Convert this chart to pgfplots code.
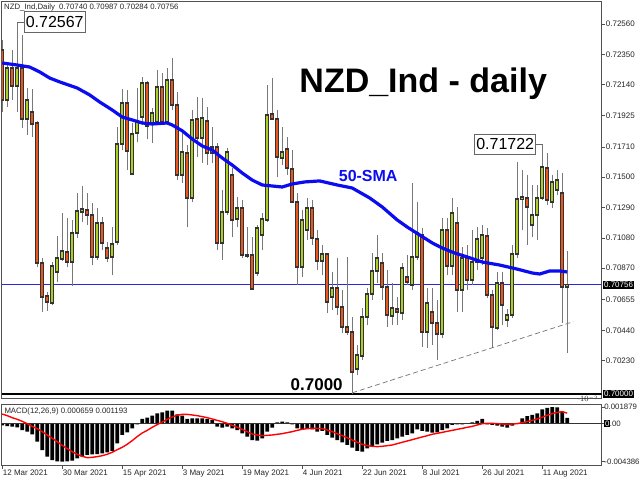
\documentclass[border=0pt]{standalone}
\usepackage{pgfplots}
\usepackage{pgfplotstable}
\pgfplotsset{compat=1.18}
\usepackage{fontspec}
\setmainfont{Liberation Sans}

\definecolor{bull}{RGB}{170,205,40}
\definecolor{bear}{RGB}{232,88,28}
\definecolor{wickc}{RGB}{120,120,120}
\definecolor{smab}{RGB}{12,12,240}
\definecolor{framec}{RGB}{80,80,80}

% daily candles: bar index, open, high, low, close
\pgfplotstableread{
i o h l c
0 0.72380 0.72449 0.71951 0.72034
1 0.72034 0.72297 0.71986 0.72255
2 0.72255 0.72380 0.72034 0.72131
3 0.72131 0.72567 0.71951 0.72255
4 0.72255 0.72484 0.71840 0.71903
5 0.71903 0.72117 0.71792 0.72034
6 0.71951 0.72110 0.71778 0.71868
7 0.71875 0.71889 0.70878 0.70906
8 0.70906 0.70941 0.70567 0.70671
9 0.70678 0.70705 0.70574 0.70636
10 0.70629 0.70913 0.70615 0.70885
11 0.70844 0.71093 0.70775 0.70941
12 0.70934 0.71252 0.70920 0.70989
13 0.70982 0.71217 0.70878 0.70913
14 0.70913 0.71204 0.70747 0.71114
15 0.71114 0.71390 0.71079 0.71266
16 0.71259 0.71439 0.71190 0.71280
17 0.71273 0.71390 0.71169 0.71238
18 0.71238 0.71321 0.70892 0.70948
19 0.70948 0.71287 0.70927 0.71183
20 0.71183 0.71224 0.70996 0.71044
21 0.71010 0.71051 0.70913 0.70941
22 0.70948 0.71155 0.70823 0.71038
23 0.71051 0.71847 0.71031 0.71730
24 0.71730 0.72110 0.71688 0.72013
25 0.72013 0.72103 0.71550 0.71681
26 0.71522 0.71875 0.71515 0.71799
27 0.71806 0.72117 0.71743 0.71889
28 0.71916 0.72193 0.71861 0.72152
29 0.72152 0.72165 0.71764 0.71854
30 0.71875 0.71979 0.71736 0.71944
31 0.71882 0.72242 0.71861 0.72124
32 0.72124 0.72221 0.71861 0.71882
33 0.71882 0.72255 0.71861 0.72172
34 0.72172 0.72325 0.71965 0.71999
35 0.71999 0.72089 0.71480 0.71515
36 0.71515 0.71826 0.71460 0.71674
37 0.71667 0.71723 0.71155 0.71356
38 0.71356 0.71965 0.71328 0.71896
39 0.71903 0.72055 0.71640 0.71771
40 0.71771 0.72048 0.71598 0.71909
41 0.71889 0.71986 0.71584 0.71667
42 0.71667 0.71847 0.71598 0.71709
43 0.71709 0.71736 0.70996 0.71044
44 0.71044 0.71411 0.70927 0.71259
45 0.71259 0.71702 0.71238 0.71674
46 0.71515 0.71563 0.71086 0.71204
47 0.71211 0.71363 0.71155 0.71287
48 0.71287 0.71342 0.70941 0.70961
49 0.70961 0.71155 0.70941 0.70954
50 0.70961 0.71086 0.70719 0.70726
51 0.70837 0.71169 0.70816 0.71148
52 0.71100 0.71252 0.70996 0.71211
53 0.71204 0.72138 0.71190 0.71930
54 0.71937 0.72186 0.71896 0.71903
55 0.71903 0.71965 0.71501 0.71640
56 0.71633 0.71847 0.71584 0.71674
57 0.71695 0.71778 0.71515 0.71563
58 0.71557 0.71688 0.71321 0.71328
59 0.71328 0.71390 0.70754 0.70878
60 0.70878 0.71273 0.70809 0.71204
61 0.71134 0.71356 0.71065 0.71287
62 0.71287 0.71342 0.71031 0.71079
63 0.71072 0.71134 0.70858 0.70920
64 0.70920 0.71031 0.70823 0.70968
65 0.70968 0.70968 0.70560 0.70636
66 0.70671 0.70844 0.70581 0.70733
67 0.70733 0.70941 0.70546 0.70602
68 0.70602 0.70719 0.70422 0.70463
69 0.70463 0.70948 0.70408 0.70429
70 0.70429 0.70532 0.70000 0.70152
71 0.70173 0.70339 0.70131 0.70269
72 0.70262 0.70595 0.70235 0.70532
73 0.70532 0.70733 0.70477 0.70692
74 0.70692 0.70975 0.70650 0.70851
75 0.70851 0.71100 0.70768 0.70941
76 0.70906 0.70975 0.70650 0.70740
77 0.70740 0.70858 0.70463 0.70546
78 0.70539 0.70768 0.70477 0.70595
79 0.70588 0.70671 0.70477 0.70567
80 0.70560 0.70906 0.70512 0.70871
81 0.70809 0.70961 0.70754 0.70775
82 0.70754 0.71460 0.70719 0.70948
83 0.70948 0.71328 0.70927 0.71114
84 0.71100 0.71148 0.70325 0.70429
85 0.70429 0.70733 0.70318 0.70629
86 0.70567 0.70733 0.70339 0.70491
87 0.70491 0.70650 0.70235 0.70415
88 0.70415 0.71217 0.70387 0.71134
89 0.71134 0.71217 0.70823 0.70885
90 0.70885 0.71356 0.70823 0.71252
91 0.71183 0.71294 0.70567 0.70719
92 0.70719 0.71017 0.70567 0.70941
93 0.70941 0.71031 0.70719 0.70789
94 0.70789 0.71135 0.70754 0.70913
95 0.70913 0.71155 0.70858 0.71072
96 0.70941 0.71169 0.70892 0.71100
97 0.71093 0.71148 0.70664 0.70685
98 0.70685 0.70719 0.70318 0.70463
99 0.70456 0.70844 0.70443 0.70768
100 0.70768 0.70844 0.70477 0.70615
101 0.70512 0.70588 0.70463 0.70546
102 0.70546 0.71031 0.70525 0.70968
103 0.70968 0.71605 0.70941 0.71349
104 0.71349 0.71550 0.71134 0.71363
105 0.71356 0.71515 0.71031 0.71294
106 0.71169 0.71446 0.71086 0.71238
107 0.71238 0.71446 0.71065 0.71356
108 0.71356 0.71722 0.71342 0.71570
109 0.71563 0.71667 0.71307 0.71342
110 0.71328 0.71515 0.71287 0.71467
111 0.71411 0.71550 0.71377 0.71480
112 0.71390 0.71529 0.70491 0.70740
113 0.70740 0.70987 0.70284 0.70756
}\candles

% 50-period simple moving average
\pgfplotstableread{
i p
0 0.72290
3 0.72276
5.5 0.72262
7.5 0.72228
9.5 0.72186
11.5 0.72159
15 0.72117
17.5 0.72069
19.5 0.72020
22 0.71965
24 0.71916
26 0.71896
28 0.71875
30 0.71868
33 0.71875
34 0.71861
36 0.71821
38 0.71764
40 0.71716
42 0.71688
44 0.71633
46 0.71584
48 0.71529
50 0.71480
52 0.71446
54 0.71439
56 0.71432
58 0.71453
60.5 0.71467
63.5 0.71474
67 0.71446
70 0.71425
73.5 0.71356
76 0.71294
79 0.71204
81 0.71155
83.5 0.71100
86 0.71045
88 0.71010
90.5 0.70975
93 0.70948
96 0.70913
99.5 0.70892
103 0.70864
106 0.70837
107.5 0.70830
109.5 0.70851
111.5 0.70851
113 0.70844
}\sma

% MACD(12,26,9): histogram m, signal s
\pgfplotstableread{
i m s
0 -0.00021 0.00109
1 -0.00029 0.00090
2 -0.00036 0.00067
3 -0.00044 0.00048
4 -0.00075 0.00025
5 -0.00094 -0.00002
6 -0.00124 -0.00033
7 -0.00209 -0.00059
8 -0.00305 -0.00094
9 -0.00381 -0.00132
10 -0.00420 -0.00170
11 -0.00435 -0.00209
12 -0.00438 -0.00251
13 -0.00435 -0.00289
14 -0.00427 -0.00324
15 -0.00400 -0.00354
16 -0.00381 -0.00377
17 -0.00362 -0.00393
18 -0.00354 -0.00389
19 -0.00351 -0.00381
20 -0.00343 -0.00370
21 -0.00331 -0.00354
22 -0.00316 -0.00331
23 -0.00228 -0.00301
24 -0.00132 -0.00274
25 -0.00102 -0.00239
26 -0.00056 -0.00197
27 -0.00010 -0.00151
28 0.00052 -0.00109
29 0.00067 -0.00079
30 0.00090 -0.00044
31 0.00117 -0.00013
32 0.00128 0.00017
33 0.00147 0.00048
34 0.00147 0.00075
35 0.00105 0.00094
36 0.00090 0.00105
37 0.00052 0.00105
38 0.00059 0.00098
39 0.00059 0.00090
40 0.00059 0.00079
41 0.00052 0.00067
42 0.00040 0.00052
43 -0.00036 0.00036
44 -0.00048 0.00021
45 -0.00036 0.00002
46 -0.00056 -0.00021
47 -0.00075 -0.00044
48 -0.00113 -0.00067
49 -0.00151 -0.00094
50 -0.00190 -0.00121
51 -0.00197 -0.00132
52 -0.00170 -0.00140
53 -0.00094 -0.00136
54 -0.00048 -0.00132
55 0.00013 -0.00124
56 0.00021 -0.00117
57 0.00013 -0.00105
58 -0.00010 -0.00094
59 -0.00056 -0.00079
60 -0.00067 -0.00067
61 -0.00063 -0.00059
62 -0.00067 -0.00056
63 -0.00094 -0.00056
64 -0.00086 -0.00059
65 -0.00132 -0.00075
66 -0.00163 -0.00094
67 -0.00190 -0.00117
68 -0.00216 -0.00140
69 -0.00247 -0.00163
70 -0.00278 -0.00190
71 -0.00316 -0.00216
72 -0.00324 -0.00239
73 -0.00285 -0.00255
74 -0.00266 -0.00262
75 -0.00239 -0.00266
76 -0.00220 -0.00262
77 -0.00201 -0.00255
78 -0.00190 -0.00247
79 -0.00170 -0.00232
80 -0.00151 -0.00216
81 -0.00132 -0.00201
82 -0.00113 -0.00186
83 -0.00067 -0.00170
84 -0.00086 -0.00155
85 -0.00094 -0.00140
86 -0.00105 -0.00124
87 -0.00102 -0.00113
88 -0.00075 -0.00102
89 -0.00056 -0.00090
90 -0.00017 -0.00079
91 -0.00010 -0.00067
92 -0.00010 -0.00056
93 -0.00002 -0.00044
94 0.00013 -0.00033
95 0.00029 -0.00017
96 0.00052 -0.00002
97 -0.00010 0.00002
98 -0.00017 0.00002
99 -0.00025 -0.00002
100 -0.00036 -0.00006
101 -0.00048 -0.00010
102 -0.00025 -0.00006
103 -0.00002 -0.00002
104 0.00059 0.00010
105 0.00086 0.00021
106 0.00098 0.00036
107 0.00117 0.00052
108 0.00163 0.00071
109 0.00180 0.00094
110 0.00188 0.00113
111 0.00185 0.00128
112 0.00136 0.00136
113 0.000659 0.001193
}\macd

\begin{document}
\begin{tikzpicture}[x=1pt,y=1pt]
\useasboundingbox (0,0) rectangle (640,480);
\fill[white] (0,0) rectangle (640,480);

\begin{axis}[
  name=main, at={(1.7pt,82pt)}, anchor=south west,
  scale only axis, width=600pt, height=397pt,
  xmin=-0.1, xmax=119.9, ymin=0.69972, ymax=0.72719,
  clip mode=individual,
  axis line style={draw=framec, line width=0.7pt},
  xtick=\empty,
  ytick={0.70230,0.70440,0.70655,0.70870,0.71080,0.71290,0.71500,0.71710,0.71925,0.72140,0.72350,0.72560},
  ytick pos=right, yticklabel pos=right,
  tick align=outside, major tick length=3pt,
  tick style={draw=framec, line width=0.5pt},
  scaled y ticks=false,
  yticklabel style={font=\fontsize{8}{9}\selectfont, text=black!85, inner sep=1pt,
    /pgf/number format/.cd, fixed, fixed zerofill, precision=5, assume math mode=true},
]
% reference levels
\addplot[color={rgb,255:red,40;green,40;blue,220}, line width=0.6pt] coordinates {(-0.1,0.70756) (119.9,0.70756)};
\addplot[black, line width=2.8pt] coordinates {(-0.1,0.70000) (119.9,0.70000)};
\addplot[black!55, line width=0.7pt, dash pattern=on 5pt off 3pt] coordinates {(70,0.70008) (114.2,0.70500)};
% wicks
\addplot[draw=none, mark=none, error bars/.cd, y dir=plus, y explicit, error mark=none,
  error bar style={line width=0.9pt, draw=wickc, solid}]
  table[x=i, y=l, y error expr={\thisrow{h}-\thisrow{l}}] {\candles};
% body outlines
\addplot[draw=none, mark=none, error bars/.cd, y dir=plus, y explicit, error mark=none,
  error bar style={line width=4pt, draw=black!80, solid}]
  table[x=i, y expr={min(\thisrow{o},\thisrow{c})-0.00005}, y error expr={abs(\thisrow{c}-\thisrow{o})+0.0001}] {\candles};
% rising bodies
\addplot[draw=none, mark=none, error bars/.cd, y dir=plus, y explicit, error mark=none,
  error bar style={line width=2.2pt, draw=bull, solid}]
  table[x=i, y expr={\thisrow{o}+0.00005}, y error expr={max(\thisrow{c}-\thisrow{o}-0.0001,0)}] {\candles};
% falling bodies
\addplot[draw=none, mark=none, error bars/.cd, y dir=plus, y explicit, error mark=none,
  error bar style={line width=2.2pt, draw=bear, solid}]
  table[x=i, y expr={\thisrow{c}+0.00005}, y error expr={max(\thisrow{o}-\thisrow{c}-0.0001,0)}] {\candles};
% 50-SMA
\addplot[smab, line width=3.2pt, line join=round] table[x=i, y=p] {\sma};

% annotations
\node[anchor=north west, inner sep=0pt, font=\fontsize{7.8}{9}\selectfont, text=black!85]
  at (rel axis cs:0,1) [xshift=2.3pt, yshift=-2.2pt] {NZD\_Ind,Daily\ \ 0.70740 0.70987 0.70284 0.70756};
\node[anchor=base, font=\bfseries\fontsize{34}{36}\selectfont] at (axis cs:84.2,0.72089) {NZD\_Ind - daily};
\node[anchor=base, font=\bfseries\fontsize{16}{18}\selectfont, text=smab] at (axis cs:73.2,0.71469) {50-SMA};
\node[anchor=base, font=\bfseries\fontsize{17}{18}\selectfont] at (axis cs:62.9,0.70027) {0.7000};
\node[draw=black!60, fill=white, line width=0.7pt, font=\fontsize{16}{18}\selectfont, inner sep=1.5pt, minimum height=20.6pt]
  (b1) at (axis cs:10.5,0.72574) {0.72567};
\draw[black!60, line width=0.7pt] (b1.west) -| (axis cs:3,0.72567);
\node[draw=black!60, fill=white, line width=0.7pt, font=\fontsize{16}{18}\selectfont, inner sep=1.5pt, minimum height=20pt]
  (b2) at (axis cs:100.6,0.71728) {0.71722};
\draw[black!60, line width=0.7pt] (b2.east) -| (axis cs:108,0.71722);
\node[anchor=west, fill=black, text=white, inner sep=1.2pt, font=\fontsize{8}{9}\selectfont]
  at (axis cs:119.9,0.70756) [xshift=1pt] {0.70756};
\node[anchor=west, fill=black, text=white, inner sep=1.2pt, font=\fontsize{8}{9}\selectfont]
  at (axis cs:119.9,0.70000) [xshift=1pt] {0.70000};
\end{axis}

\begin{axis}[
  name=osc, at={(1.7pt,14.5pt)}, anchor=south west,
  scale only axis, width=600pt, height=61.5pt,
  xmin=-0.1, xmax=119.9, ymin=-0.004828, ymax=0.002241,
  clip mode=individual,
  axis line style={draw=framec, line width=0.7pt},
  xtick={0,12,...,108},
  xticklabels={12 Mar 2021,30 Mar 2021,15 Apr 2021,3 May 2021,19 May 2021,4 Jun 2021,22 Jun 2021,8 Jul 2021,26 Jul 2021,11 Aug 2021},
  xtick pos=left,
  xticklabel style={anchor=north west, inner sep=0pt, xshift=0.5pt, yshift=-1pt, font=\fontsize{8}{9}\selectfont, text=black!85},
  ytick={-0.004386,0,0.001879},
  yticklabels={-0.004386,{\setlength{\fboxsep}{0.6pt}\colorbox{black}{\textcolor{white}{0}}.00},0.001879},
  ytick pos=right, yticklabel pos=right,
  yticklabel style={font=\fontsize{7.8}{9}\selectfont, text=black!85, inner sep=0pt, xshift=-0.5pt},
  tick align=outside, major tick length=3pt,
  tick style={draw=framec, line width=0.5pt},
]
\addplot[ybar, bar width=3.6pt, fill=black, draw=none] table[x=i, y=m] {\macd};
\addplot[black!80, line width=0.8pt] coordinates {(-0.1,0) (119.9,0)};
\addplot[red, line width=1.4pt, line join=round] table[x=i, y=s] {\macd};
\node[anchor=west, inner sep=0pt, font=\fontsize{7.8}{9}\selectfont, text=black!85]
  at (rel axis cs:0,1) [xshift=2.6pt, yshift=-7.5pt] {MACD(12,26,9) 0.000659 0.001193};
\end{axis}
\end{tikzpicture}
\end{document}
